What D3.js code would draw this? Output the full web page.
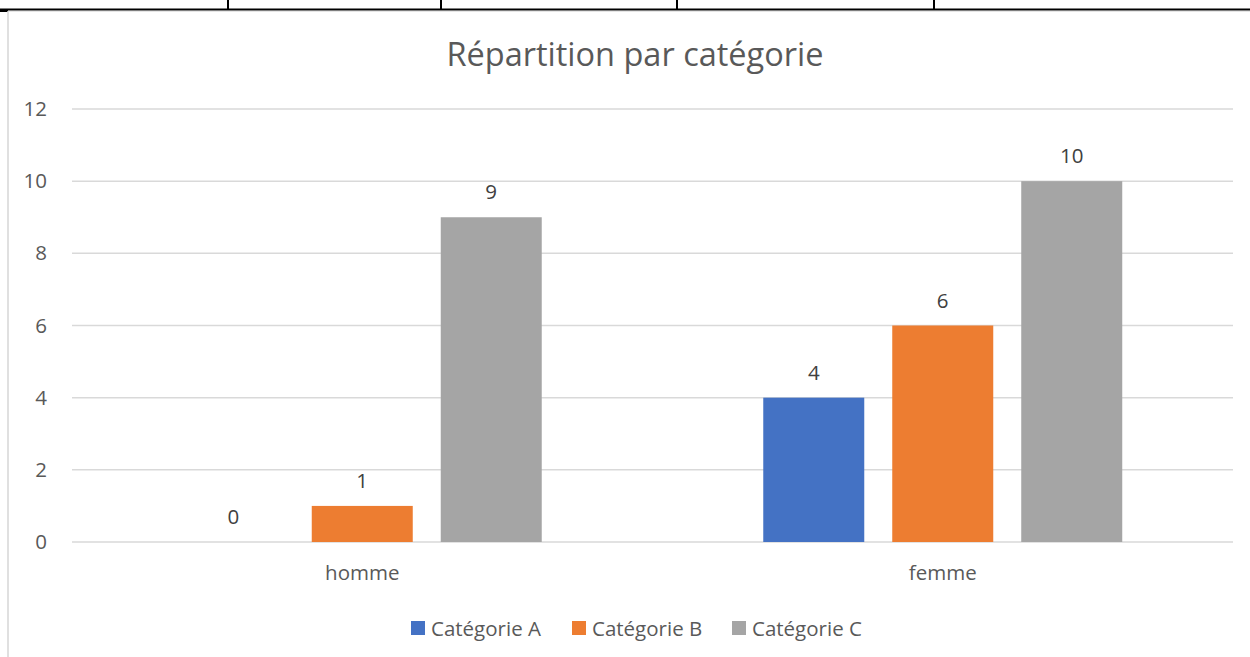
<!DOCTYPE html>
<html>
<head>
<meta charset="utf-8">
<script src="https://cdn.jsdelivr.net/npm/d3@7"></script>
<style>
  body { margin: 0; background: #fff; }
  svg { display: block; font-family: "Open Sans", "Noto Sans", sans-serif; }
</style>
</head>
<body>
<div id="chart"></div>
<script>
// chart data
const categories = ["homme", "femme"];
const seriesNames = ["Catégorie A", "Catégorie B", "Catégorie C"];
const catA = [0, 4];
const catB = [1, 6];
const catC = [9, 10];
const yTicks = [0, 2, 4, 6, 8, 10, 12];
const colors = ["#4472C4", "#ED7D31", "#A5A5A5"];

const W = 1250, H = 657;
const svg = d3.select("#chart").append("svg").attr("width", W).attr("height", H);

// page frame bits (table border above the chart)
svg.append("line").attr("x1", 0).attr("x2", W).attr("y1", 9.5).attr("y2", 9.5)
  .attr("stroke", "#000").attr("stroke-width", 2);
svg.append("line").attr("x1", 0).attr("x2", W).attr("y1", 11.5).attr("y2", 11.5)
  .attr("stroke", "#e6e6e6").attr("stroke-width", 1);
[228, 441, 677, 934].forEach(x => {
  svg.append("line").attr("x1", x).attr("x2", x).attr("y1", 0).attr("y2", 9)
    .attr("stroke", "#000").attr("stroke-width", 2);
});
svg.append("line").attr("x1", 0).attr("x2", 8).attr("y1", 11).attr("y2", 11)
  .attr("stroke", "#000").attr("stroke-width", 2);
svg.append("line").attr("x1", 8).attr("x2", 8).attr("y1", 11).attr("y2", H)
  .attr("stroke", "#d6d6d6").attr("stroke-width", 1.5);

// plot geometry
const plotLeft = 72, plotRight = 1233, plotTop = 109, plotBottom = 542;

const y = d3.scaleLinear().domain([0, 12]).range([plotBottom, plotTop]);
const x0 = d3.scaleBand().domain(categories).range([plotLeft, plotRight])
  .paddingInner(0.3816).paddingOuter(0.1908);
const x1 = d3.scaleBand().domain(seriesNames).range([0, x0.bandwidth()])
  .paddingInner(0.217).paddingOuter(0);

// title
svg.append("text").attr("x", 635).attr("y", 66)
  .attr("text-anchor", "middle").attr("font-size", 32.5).attr("fill", "#595959")
  .text("Répartition par catégorie");

// gridlines
svg.append("g").selectAll("line").data(yTicks).join("line")
  .attr("x1", plotLeft).attr("x2", plotRight)
  .attr("y1", d => y(d)).attr("y2", d => y(d))
  .attr("stroke", "#d9d9d9").attr("stroke-width", 1.5);

// y axis labels
svg.append("g").selectAll("text").data(yTicks).join("text")
  .attr("x", 47).attr("y", d => y(d) + 7)
  .attr("text-anchor", "end").attr("font-size", 20.5).attr("fill", "#595959")
  .text(d => d);

// bars
const rows = categories.map((c, i) => ({
  cat: c,
  vals: [catA[i], catB[i], catC[i]].map((v, j) => ({ name: seriesNames[j], v: v, color: colors[j] }))
}));

const groups = svg.append("g").selectAll("g").data(rows).join("g")
  .attr("transform", d => `translate(${x0(d.cat)},0)`);

groups.selectAll("rect").data(d => d.vals).join("rect")
  .attr("x", d => x1(d.name)).attr("width", x1.bandwidth())
  .attr("y", d => y(d.v)).attr("height", d => plotBottom - y(d.v))
  .attr("fill", d => d.color);

groups.selectAll("text").data(d => d.vals).join("text")
  .attr("x", d => x1(d.name) + x1.bandwidth() / 2)
  .attr("y", d => y(d.v) - 18)
  .attr("text-anchor", "middle").attr("font-size", 20.5).attr("fill", "#404040")
  .text(d => d.v);

// category labels
svg.append("g").selectAll("text").data(categories).join("text")
  .attr("x", d => x0(d) + x0.bandwidth() / 2).attr("y", 580)
  .attr("text-anchor", "middle").attr("font-size", 20.5).attr("fill", "#595959")
  .text(d => d);

// legend
const legendX = [411, 572, 732];
const legend = svg.append("g").selectAll("g").data(seriesNames).join("g")
  .attr("transform", (d, i) => `translate(${legendX[i]},621)`);
legend.append("rect").attr("width", 14).attr("height", 14)
  .attr("fill", (d, i) => colors[i]);
legend.append("text").attr("x", 20).attr("y", 14.5)
  .attr("font-size", 20.5).attr("fill", "#595959").text(d => d);
</script>
</body>
</html>
